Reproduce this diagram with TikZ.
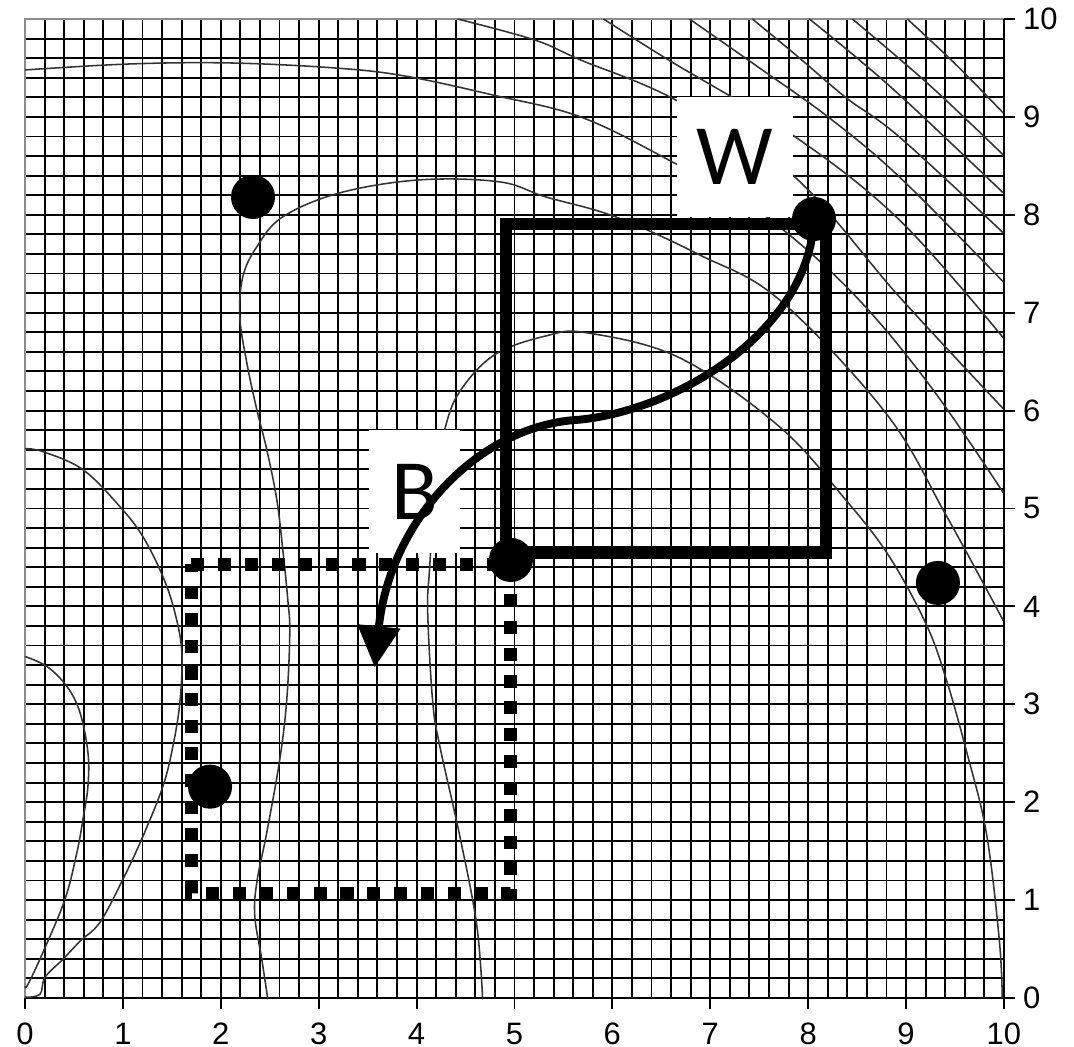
\documentclass[tikz,border=0pt]{standalone}
\usepackage{fontspec}
\setmainfont{Liberation Sans}
\newfontfamily\labfont{Carlito}
\usetikzlibrary{arrows.meta}
\begin{document}
\begin{tikzpicture}[
  gridline/.style={line width=0.55pt, black},
  contour/.style={line width=0.45pt, black!80, line join=round},
  thickbox/.style={line width=3.5pt, line join=miter},
  dotbox/.style={line width=3.8pt, dash pattern=on 3.8pt off 4pt},
  bigdot/.style={circle, fill=black, minimum size=0.45cm, inner sep=0pt},
  letterbox/.style={fill=white, inner sep=0pt, font=\labfont\fontsize{25}{25}\selectfont},
  ticklab/.style={font=\fontsize{9}{9}\selectfont, inner sep=0pt},
  flowarrow/.style={line width=2.3pt, -{Triangle[length=12pt,width=12pt]}},
  px/.style={shift={(-0.2554,10.194)}, x=0.010215cm, y=-0.010215cm}
]
\useasboundingbox (-0.2554,-0.501) rectangle (10.716,10.194);
% grid
\foreach \i in {1,...,49} {
  \draw[gridline] (\i/5,0) -- (\i/5,10);
  \draw[gridline] (0,\i/5) -- (10,\i/5);
}
\draw[line width=0.6pt, black!45] (0,0) -- (0,10) -- (10,10);
\draw[gridline] (0,0) -- (10,0) -- (10,10);
% ticks and labels
\foreach \i in {0,...,10} {
  \draw[gridline] (\i,0) -- (\i,-0.11);
  \node[ticklab] (bx\i) at (\i,-0.368) {\i};
  \draw[gridline] (10,\i) -- (10.11,\i);
  \node[ticklab, anchor=west] (ry\i) at (10.19,\i) {\i};
}
% contours (pixel coordinates)
\begin{scope}[px]
% top contour starting on the left edge
\draw[contour] plot[smooth, tension=0.6] coordinates {(25,70) (130,64) (230,63) (335,68) (405,76) (493,95) (581,117) (669,160) (760,212) (850,290) (930,385) (1004,493)};
% contour around the upper-left dot
\draw[contour] plot[smooth, tension=0.6] coordinates {(268,1000) (262,960) (255,917) (257,883) (267,833) (280,760) (287,700) (290,633) (288,600) (283,550) (277,500) (267,450) (257,410) (247,363) (240,317) (243,277) (257,247) (283,217) (340,193) (420,180) (500,182) (546,197) (616,217) (700,255) (780,300) (887,414) (947,516) (1004,621)};
% contour through B
\draw[contour] plot[smooth, tension=0.6] coordinates {(483,1000) (477,925) (460,836) (440,746) (433,702) (428,612) (430,568) (436,480) (445,430) (460,392) (495,355) (547,336) (587,333) (680,358) (780,427) (847,501) (890,557) (927,625) (947,680) (967,751) (987,833) (1000,940) (1003,998)};
% left contours
\draw[contour] plot[smooth, tension=0.6] coordinates {(25,449) (43,452) (83,470) (120,507) (143,537) (163,577) (175,613) (182,653) (180,703) (173,747) (163,787) (143,837) (123,880) (100,923) (80,942) (63,960) (45,978) (40,995) (25,998)};
\draw[contour] plot[smooth, tension=0.6] coordinates {(25,657) (47,667) (67,687) (80,713) (88,753) (88,787) (83,820) (77,853) (65,900) (43,953) (28,985) (25,987)};
% top-right family
\draw[contour] plot[smooth, tension=0.6] coordinates {(458,19) (535,40) (581,60) (676,100) (793,175) (900,297) (1004,409)};
\draw[contour] plot[smooth, tension=0.6] coordinates {(604,19) (669,60) (793,135) (900,220) (1004,338)};
\draw[contour] plot[smooth, tension=0.6] coordinates {(690,19) (760,68) (830,118) (900,177) (1004,282)};
\draw[contour] plot[smooth, tension=0.6] coordinates {(753,19) (800,58) (847,98) (900,137) (1004,233)};
\draw[contour] plot[smooth, tension=0.6] coordinates {(810,19) (860,60) (910,104) (1004,193)};
\draw[contour] plot[smooth, tension=0.6] coordinates {(853,19) (930,85) (1004,155)};
\draw[contour] plot[smooth, tension=0.6] coordinates {(908,19) (956,64) (1004,113)};
\end{scope}
% boxes
\draw[dotbox] (1.70,4.43) -- (4.96,4.43) -- (4.96,1.07) -- (1.70,1.07) -- cycle;
\draw[thickbox] (4.913,4.55) rectangle (8.18,7.91);
% labels
\node[letterbox, minimum width=1.185cm, minimum height=1.226cm] (W) at (7.25,8.59) {W};
\node[letterbox, minimum width=0.93cm, minimum height=1.256cm] (B) at (3.979,5.174) {B};
% arrow
\coordinate (d1) at (2.329,8.182);
\coordinate (d2) at (8.06,7.957);
\coordinate (d3) at (4.964,4.474);
\coordinate (d4) at (9.326,4.239);
\coordinate (d5) at (1.89,2.158);
\begin{scope}[px]
\coordinate (mid) at (580,420);
\coordinate (tip) at (375,668);
\draw[flowarrow] (d2) .. controls (810,330) and (680,410) .. (mid) .. controls (480,425) and (390,520) .. (tip);
\end{scope}
% dots
\foreach \d in {d1,d2,d3,d4,d5} { \node[bigdot] (n\d) at (\d) {}; }
\end{tikzpicture}
\end{document}
